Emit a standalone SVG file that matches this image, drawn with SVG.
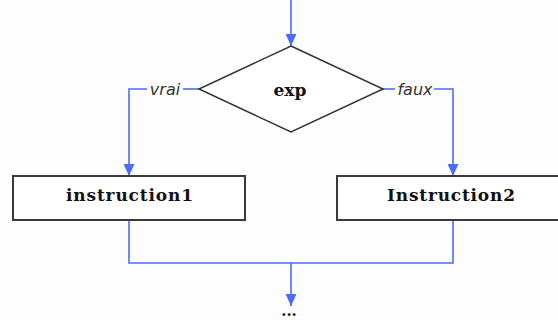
<svg xmlns="http://www.w3.org/2000/svg" width="558" height="320" viewBox="0 0 558 320">
<style>
.conn{fill:none;stroke:#4a6cf8;stroke-width:1.6}
.box{fill:#fff;stroke:#3a3a3a;stroke-width:2}
.dia{fill:#fff;stroke:#333;stroke-width:1.5}
.lbl{font-family:"DejaVu Serif","Liberation Serif",serif;font-weight:bold;font-size:17px;fill:#111;text-anchor:middle}
.cond{font-family:"DejaVu Sans","Liberation Sans",sans-serif;font-style:italic;font-size:16px;fill:#333;text-anchor:middle}
</style>
<defs>
<marker id="ah" markerUnits="userSpaceOnUse" markerWidth="12" markerHeight="11" refX="12" refY="5.5" orient="auto">
<path d="M0,0 L12,5.5 L0,11 Z" fill="#4a6cf8"/>
</marker>
</defs>
<rect width="558" height="320" fill="#fdfdfd"/>
<g id="connectors">
<path class="conn" d="M291,0 V46" marker-end="url(#ah)"/>
<path class="conn" d="M199,89 H183"/>
<path class="conn" d="M147,89 H129 V176" marker-end="url(#ah)"/>
<path class="conn" d="M383,89 H395"/>
<path class="conn" d="M434,89 H453 V176" marker-end="url(#ah)"/>
<path class="conn" d="M129,220 V263 H453 V220"/>
<path class="conn" d="M291,263 V306" marker-end="url(#ah)"/>
<text class="cond" x="165" y="95">vrai</text>
<text class="cond" x="415" y="95">faux</text>
</g>
<g id="decision">
<polygon class="dia" points="291,46 383,89 291,132 199,89"/>
<text class="lbl" x="290" y="96" textLength="33" lengthAdjust="spacingAndGlyphs">exp</text>
</g>
<g id="instruction1">
<rect class="box" x="13" y="176" width="232" height="44"/>
<text class="lbl" x="129.5" y="201" textLength="127">instruction1</text>
</g>
<g id="instruction2">
<rect class="box" x="337" y="176" width="230" height="44"/>
<text class="lbl" x="451" y="201" textLength="128">Instruction2</text>
</g>
<g id="continuation">
<text class="lbl" x="289" y="316" style="font-size:15px">...</text>
</g>
</svg>
